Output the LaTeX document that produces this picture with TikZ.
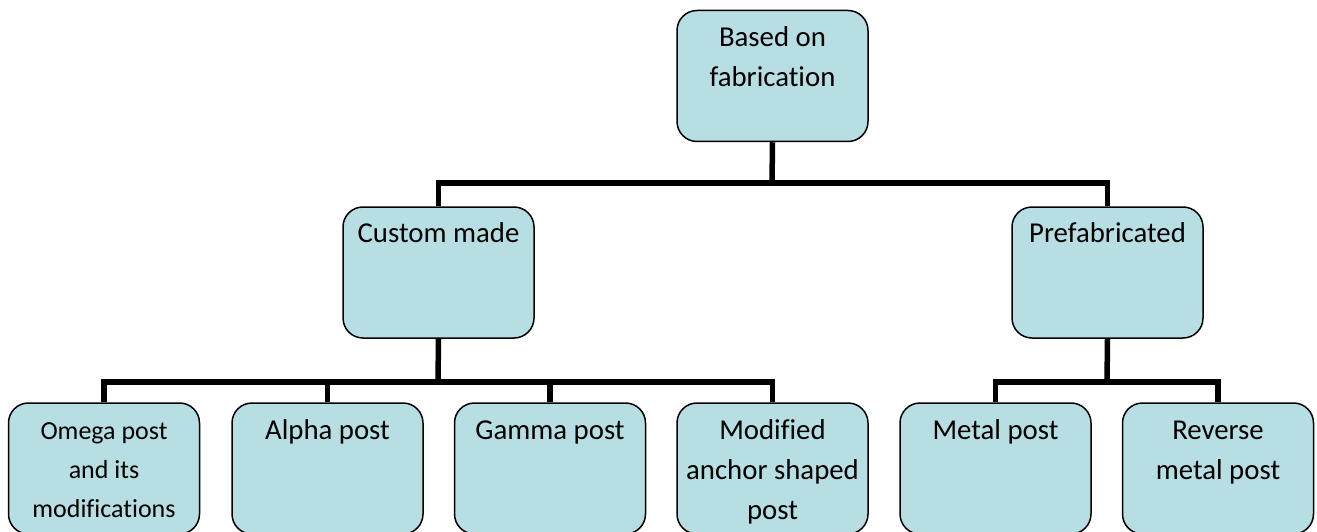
\documentclass[tikz,border=0pt]{standalone}
\usepackage{fontspec}
\setmainfont[Ligatures=NoCommon]{Carlito}
\definecolor{boxfill}{RGB}{183,222,226}
\begin{document}
\begin{tikzpicture}[x=1pt,y=-1pt,
  box/.style={draw=black, line width=1.5pt, fill=boxfill, rounded corners=20pt,
    minimum width=191pt, minimum height=131pt, inner sep=0pt},
  txt/.style={anchor=base, align=center, inner sep=0pt,
    font=\fontsize{28.8}{40}\selectfont},
  smalltxt/.style={txt, font=\fontsize{26}{39}\selectfont},
  conn/.style={line width=5.5pt, line join=miter}]
\useasboundingbox (0,0) rectangle (1317,532);
\clip (0,0) rectangle (1317,532);
% junctions
\coordinate (j1) at (772,183);
\coordinate (j2) at (438,382);
\coordinate (j3) at (1107,382);
% boxes
\node[box] (top) at (772.5,76) {};
\node[box] (custom) at (438.5,272.5) {};
\node[box] (prefab) at (1107.5,272.5) {};
\node[box] (omega) at (104,468.5) {};
\node[box] (alpha) at (327.5,468.5) {};
\node[box] (gamma) at (550,468.5) {};
\node[box] (modified) at (772.5,468.5) {};
\node[box] (metal) at (995.5,468.5) {};
\node[box] (reverse) at (1218,468.5) {};
% connectors
\draw[conn] (top.south) -- (j1);
\draw[conn] (custom.north) |- (j1) -| (prefab.north);
\draw[conn] (custom.south) -- (j2);
\draw[conn] (omega.north) |- (j2) -| (modified.north);
\draw[conn] (alpha.north) -- (alpha.north |- j2);
\draw[conn] (gamma.north) -- (gamma.north |- j2);
\draw[conn] (prefab.south) -- (j3);
\draw[conn] (metal.north) |- (j3) -| (reverse.north);
% texts (anchor base = baseline of last line)
\node[txt] (toptxt) at ([yshift=-77pt]top.north) {Based on\\fabrication};
\node[txt] (customtxt) at ([yshift=-36pt]custom.north) {Custom made};
\node[txt] (prefabtxt) at ([yshift=-36pt]prefab.north) {Prefabricated};
\node[smalltxt] (omegatxt) at ([yshift=-115pt]omega.north) {Omega post\\and its\\modifications};
\node[txt] (alphatxt) at ([yshift=-37pt]alpha.north) {Alpha post};
\node[txt] (gammatxt) at ([yshift=-37pt]gamma.north) {Gamma post};
\node[txt] (modifiedtxt) at ([yshift=-117pt]modified.north) {Modified\\anchor shaped\\post};
\node[txt] (metaltxt) at ([yshift=-37pt]metal.north) {Metal post};
\node[txt] (reversetxt) at ([yshift=-77pt]reverse.north) {Reverse\\metal post};
\end{tikzpicture}
\end{document}
